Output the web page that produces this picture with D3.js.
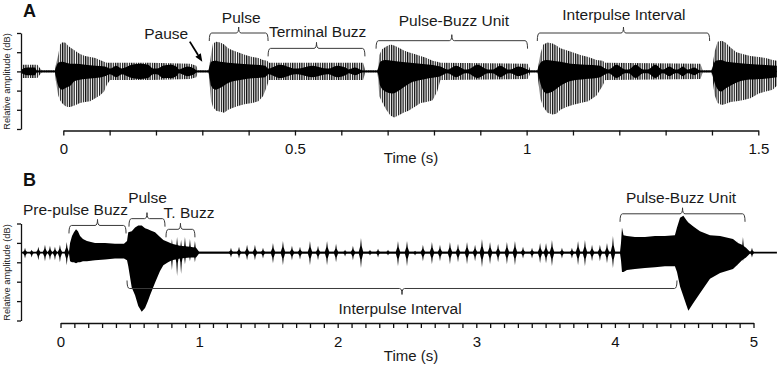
<!DOCTYPE html>
<html lang="en">
<head>
<meta charset="UTF-8">
<title>Call waveforms</title>
<script src="https://d3js.org/d3.v7.min.js"></script>
<style>
  body { margin: 0; background: #fff; }
  svg { display: block; font-family: "Liberation Sans", Arial, sans-serif; }
  .axis path, .axis line { stroke: #111; stroke-width: 1.3; }
  .axis text { font-size: 15px; fill: #111; font-family: "Liberation Sans", Arial, sans-serif; }
  .note { font-size: 15.5px; fill: #1a1a1a; text-anchor: middle; }
  .brace { fill: none; stroke: #3a3a3a; stroke-width: 1; }
  .panel { font-size: 18px; font-weight: bold; fill: #111; }
  .ylab { font-size: 9.3px; fill: #222; text-anchor: middle; }
</style>
</head>
<body>
<div id="chart"></div>
<script>
// ---- axes ----
const timeTicksA = [0, 0.5, 1, 1.5];
const timeTicksB = [0, 1, 2, 3, 4, 5];
const ampTicksA = [-60, -40, -20, 0, 20, 40];
const ampTicksB = [-70, -50, -30, -10, 10, 30];
const traceSpanA = [-0.091, 1.540];
const traceSpanB = [-0.285, 5.169];

// ---- panel A: [time s, upper, lower] ----
// outer envelope of the individual spikes
const spikesA = [
  [-0.090, 7, -7], [-0.056, 7, -7], [-0.050, 3, -3], [-0.046, 1, -1], [-0.018, 1, -1],
  [-0.016, 7, -10], [-0.011, 17, -25], [-0.007, 28, -30], [-0.003, 30, -33], [0.004, 30, -36],
  [0.010, 27, -37], [0.015, 25, -37], [0.021, 23, -36], [0.027, 21, -35], [0.036, 18, -33],
  [0.047, 16, -32], [0.058, 15, -31], [0.069, 14, -28], [0.079, 12, -25], [0.088, 10, -21],
  [0.094, 9, -14], [0.101, 9, -9], [0.187, 9, -9], [0.274, 8, -8], [0.287, 6, -6],
  [0.291, 1, -1], [0.313, 1, -1], [0.315, 5, -8], [0.319, 18, -31], [0.323, 29, -37],
  [0.330, 31, -41], [0.339, 30, -42], [0.347, 28, -43], [0.356, 24, -40], [0.365, 22, -38],
  [0.377, 20, -36], [0.393, 17, -34], [0.408, 15, -33], [0.421, 14, -31], [0.431, 12, -26],
  [0.440, 11, -15], [0.444, 9, -9], [0.647, 9, -9], [0.652, 1, -1], [0.678, 1, -1],
  [0.680, 5, -10], [0.682, 17, -26], [0.688, 23, -32], [0.697, 26, -40], [0.706, 28, -46],
  [0.714, 27, -48], [0.723, 25, -46], [0.734, 22, -43], [0.745, 20, -41], [0.758, 18, -37],
  [0.771, 16, -33], [0.784, 14, -32], [0.797, 11, -30], [0.807, 10, -21], [0.814, 9, -9],
  [1.002, 8, -8], [1.006, 4, -4], [1.008, 1, -1], [1.023, 1, -1], [1.025, 5, -10],
  [1.030, 19, -29], [1.036, 28, -37], [1.045, 30, -43], [1.056, 29, -45], [1.064, 27, -44],
  [1.073, 24, -40], [1.086, 22, -37], [1.099, 20, -35], [1.116, 17, -33], [1.133, 15, -31],
  [1.151, 12, -25], [1.164, 11, -15], [1.170, 9, -9], [1.375, 8, -8], [1.378, 4, -4],
  [1.380, 1, -1], [1.399, 1, -1], [1.401, 5, -8], [1.406, 21, -25], [1.412, 31, -33],
  [1.421, 32, -35], [1.429, 30, -34], [1.440, 25, -32], [1.453, 20, -31], [1.466, 18, -30],
  [1.483, 16, -28], [1.501, 15, -23], [1.516, 14, -21], [1.531, 12, -19], [1.540, 11, -15]
];
// dense black core (pulse bodies and buzz blobs)
const coreA = [
  [-0.090, 2, -2], [-0.078, 4, -4], [-0.061, 4, -4], [-0.057, 1, -1], [-0.018, 1, -1],
  [-0.016, 4, -5], [-0.011, 9, -15], [-0.003, 10, -19], [0.006, 9, -17], [0.015, 8, -15],
  [0.025, 8, -10], [0.047, 7, -8], [0.069, 6, -7], [0.090, 5, -5], [0.101, 3, -3],
  [0.114, 6, -6], [0.127, 3, -3], [0.133, 4, -4], [0.148, 7, -7], [0.166, 8, -8],
  [0.183, 7, -7], [0.194, 3, -3], [0.202, 3, -3], [0.215, 6, -7], [0.231, 7, -7],
  [0.244, 5, -5], [0.250, 2, -2], [0.256, 3, -3], [0.269, 5, -5], [0.282, 3, -3],
  [0.289, 1, -1], [0.313, 1, -1], [0.315, 4, -4], [0.319, 10, -15], [0.328, 11, -19],
  [0.339, 10, -17], [0.356, 9, -12], [0.382, 8, -9], [0.414, 7, -7], [0.436, 6, -6],
  [0.442, 3, -3], [0.468, 7, -7], [0.501, 3, -3], [0.505, 3, -3], [0.537, 6, -6],
  [0.570, 3, -3], [0.572, 3, -3], [0.591, 6, -6], [0.613, 3, -3], [0.615, 2, -2],
  [0.630, 4, -4], [0.647, 1, -1], [0.678, 1, -1], [0.680, 4, -4], [0.684, 10, -15],
  [0.695, 12, -21], [0.710, 11, -23], [0.727, 10, -19], [0.749, 9, -12], [0.771, 8, -9],
  [0.792, 7, -7], [0.814, 5, -5], [0.829, 2, -2], [0.848, 6, -6], [0.868, 2, -2],
  [0.872, 2, -2], [0.894, 7, -7], [0.917, 2, -2], [0.926, 2, -2], [0.943, 6, -6],
  [0.961, 2, -2], [0.965, 2, -2], [0.982, 5, -5], [1.002, 2, -2], [1.008, 1, -1],
  [1.023, 1, -1], [1.025, 4, -4], [1.032, 10, -16], [1.043, 12, -23], [1.056, 11, -21],
  [1.073, 10, -15], [1.095, 8, -10], [1.127, 7, -8], [1.159, 6, -6], [1.170, 3, -3],
  [1.177, 2, -2], [1.194, 7, -7], [1.213, 2, -2], [1.220, 2, -2], [1.235, 7, -7],
  [1.252, 2, -2], [1.261, 2, -2], [1.278, 7, -7], [1.293, 2, -2], [1.295, 2, -2],
  [1.308, 5, -5], [1.321, 2, -2], [1.326, 2, -2], [1.337, 5, -5], [1.347, 2, -2],
  [1.349, 2, -2], [1.362, 4, -4], [1.375, 1, -1], [1.399, 1, -1], [1.401, 4, -4],
  [1.408, 11, -15], [1.419, 12, -21], [1.432, 10, -17], [1.451, 9, -12], [1.473, 8, -9],
  [1.505, 7, -8], [1.540, 6, -6]
];

// ---- panel B: [time s, upper, lower] ----
const envB = [
  [0.061, 1, -1], [0.069, 10, -9], [0.083, 17, -10], [0.097, 21, -10], [0.112, 24, -11],
  [0.126, 22, -10], [0.141, 17, -10], [0.162, 14, -9], [0.191, 12, -9], [0.249, 10, -8],
  [0.321, 10, -7], [0.393, 9, -6], [0.458, 9, -6], [0.480, 12, -8], [0.489, 21, -14],
  [0.514, 22, -36], [0.538, 26, -44], [0.561, 28, -55], [0.586, 28, -61], [0.610, 25, -57],
  [0.631, 24, -50], [0.646, 23, -44], [0.682, 21, -31], [0.718, 16, -19], [0.742, 13, -13],
  [0.776, 11, -10], [0.804, 9, -8], [0.862, 7, -6], [0.934, 6, -5], [0.978, 5, -5],
  [1.000, 1, -1], [4.037, 1, -1], [4.044, 10, -8], [4.051, 26, -20], [4.062, 18, -20],
  [4.087, 17, -18], [4.145, 16, -17], [4.217, 16, -16], [4.289, 17, -15], [4.361, 17, -14],
  [4.433, 18, -14], [4.448, 26, -20], [4.470, 36, -35], [4.494, 38, -45], [4.518, 33, -55],
  [4.530, 31, -60], [4.566, 27, -52], [4.614, 22, -42], [4.686, 18, -27], [4.759, 17, -21],
  [4.852, 14, -17], [4.888, 10, -12], [4.917, 8, -8], [4.946, 5, -5], [4.975, 1, -1]
];
// short buzz bursts
const burstsB = [
  [-0.256, 5, -6], [-0.208, 3, -5], [-0.160, 6, -8], [-0.112, 8, -9], [-0.076, 7, -8],
  [-0.040, 6, -8], [-0.004, 8, -10], [0.045, 11, -13],
  [0.804, 14, -18], [0.841, 16, -24], [0.870, 13, -22], [0.898, 16, -12], [0.934, 14, -9],
  [0.970, 12, -10],
  [1.230, 5, -5], [1.288, 6, -6], [1.346, 8, -8], [1.403, 8, -8], [1.461, 5, -6],
  [1.533, 10, -11], [1.605, 12, -13], [1.670, 7, -8], [1.728, 6, -7], [1.800, 12, -13],
  [1.858, 7, -8], [1.923, 12, -13], [1.988, 9, -10], [2.053, 3, -4], [2.110, 7, -8],
  [2.168, 15, -16], [2.233, 3, -3], [2.291, 4, -5], [2.363, 3, -3], [2.435, 12, -14],
  [2.500, 12, -14], [2.558, 2, -3], [2.615, 8, -9], [2.680, 11, -12], [2.738, 8, -9],
  [2.810, 11, -12], [2.868, 9, -10], [2.933, 11, -12], [2.991, 8, -9], [3.041, 14, -15],
  [3.099, 11, -12], [3.157, 9, -10], [3.221, 11, -12], [3.279, 12, -13], [3.337, 6, -6],
  [3.402, 5, -6], [3.460, 10, -11], [3.503, 10, -11], [3.546, 13, -14], [3.618, 5, -6],
  [3.690, 5, -6], [3.734, 12, -13], [3.784, 13, -14], [3.835, 8, -9], [3.892, 8, -9],
  [3.943, 10, -11], [3.986, 17, -16],
  [4.830, 14, -16], [4.881, 12, -14], [4.924, 16, -9], [4.989, 5, -5]
];

// ---- annotations: [label, t0, t1, brace amplitude, label time, label amplitude] ----
const notesA = [
  ["Pulse", 0.315, 0.442, 40, 0.384, 50],
  ["Terminal Buzz", 0.442, 0.651, 24, 0.549, 36],
  ["Pulse-Buzz Unit", 0.675, 1.002, 32, 0.843, 47],
  ["Interpulse Interval", 1.023, 1.395, 40, 1.210, 54]
];
const pauseA = ["Pause", 0.222, 34, 0.273, 31, 0.300, 10]; // label t, amp, arrow from t, amp, to t, amp
const notesB = [
  ["Pre-pulse Buzz", 0.061, 0.473, 28, 0.108, 39],
  ["Pulse", 0.494, 0.754, 35, 0.628, 51],
  ["T. Buzz", 0.761, 0.970, 24, 0.927, 36],
  ["Pulse-Buzz Unit", 4.037, 4.939, 40, 4.477, 51]
];
const intervalB = ["Interpulse Interval", 0.480, 4.448, -37, 2.450, -63];

// ---- layout ----
const width = 777, height = 368;

const xA = d3.scaleLinear().domain([0, 1.5]).range([63.3, 758.3]);
const yA = d3.scaleLinear().domain([-60, 40]).range([129, 33]);
const xB = d3.scaleLinear().domain([0, 5]).range([60.5, 753.5]);
const yB = d3.scaleLinear().domain([-70, 30]).range([320.5, 223.5]);

const svg = d3.select("#chart").append("svg")
    .attr("width", width)
    .attr("height", height)
    .attr("viewBox", [0, 0, width, height]);

const defs = svg.append("defs");
defs.append("pattern")
    .attr("id", "spikes")
    .attr("patternUnits", "userSpaceOnUse")
    .attr("width", 2.3)
    .attr("height", 8)
    .append("rect")
    .attr("width", 1.25)
    .attr("height", 8)
    .attr("fill", "#111");

function brace(g, x0, x1, y, open) {
    // open = 1 : ends point down, notch up ; open = -1 : reverse
    const xm = (x0 + x1) / 2, e = 8 * open, n = -6 * open, r = 2.5;
    g.append("path")
        .attr("class", "brace")
        .attr("d", `M${x0},${y + e} Q${x0},${y} ${x0 + r},${y} L${xm - r},${y} Q${xm},${y} ${xm},${y + n}` +
            ` Q${xm},${y} ${xm + r},${y} L${x1 - r},${y} Q${x1},${y} ${x1},${y + e}`);
}

function timeAxis(x, labels, n) {
    const vals = d3.range(n + 1).map(i => i / 10);
    return d3.axisBottom(x)
        .tickValues(vals)
        .tickSize(5)
        .tickPadding(8)
        .tickSizeOuter(0)
        .tickFormat(d => {
            const m = labels.find(v => Math.abs(v - d) < 1e-6);
            return m === undefined ? "" : String(m);
        });
}

function burst(x, y0, yh, yl) {
    const w = 2.4, k = 0.45;
    return `M${x - w},${y0} L${x - w * 0.3},${y0 + (yh - y0) * k} L${x},${yh} L${x + w * 0.3},${y0 + (yh - y0) * k}` +
        ` L${x + w},${y0} L${x + w * 0.3},${y0 + (yl - y0) * k} L${x},${yl} L${x - w * 0.3},${y0 + (yl - y0) * k} Z`;
}

// ================= Panel A =================
const gA = svg.append("g");

gA.append("text").attr("class", "panel").attr("x", 23).attr("y", 17).text("A");

gA.append("path")
    .datum(spikesA)
    .attr("fill", "url(#spikes)")
    .attr("d", d3.area().x(d => xA(d[0])).y0(d => yA(d[2])).y1(d => yA(d[1])));

gA.append("path")
    .datum(coreA)
    .attr("fill", "#000")
    .attr("d", d3.area().curve(d3.curveMonotoneX).x(d => xA(d[0])).y0(d => yA(d[2])).y1(d => yA(d[1])));

gA.append("line")
    .attr("x1", xA(traceSpanA[0])).attr("x2", xA(traceSpanA[1]))
    .attr("y1", yA(0)).attr("y2", yA(0))
    .attr("stroke", "#000").attr("stroke-width", 1.5);

gA.append("g")
    .attr("class", "axis")
    .attr("transform", "translate(21,0)")
    .call(d3.axisLeft(yA).tickValues(ampTicksA).tickSize(4).tickSizeOuter(0).tickFormat(""));

gA.append("g")
    .attr("class", "axis")
    .attr("transform", "translate(0,130.5)")
    .call(timeAxis(xA, timeTicksA, 15));

gA.append("text").attr("class", "note").attr("x", 411).attr("y", 163).style("font-size", "15px").text("Time (s)");

gA.append("text")
    .attr("class", "ylab")
    .attr("transform", "translate(9.5,81.5) rotate(-90)")
    .text("Relative amplitude (dB)");

notesA.forEach(([label, t0, t1, amp, tl, al]) => {
    brace(gA, xA(t0), xA(t1), yA(amp), 1);
    gA.append("text").attr("class", "note").attr("x", xA(tl)).attr("y", yA(al)).text(label);
});

{
    const [label, tl, al, ts, as, te, ae] = pauseA;
    gA.append("text").attr("class", "note").attr("x", xA(tl)).attr("y", yA(al)).text(label);
    const x1 = xA(ts), y1 = yA(as), x2 = xA(te), y2 = yA(ae);
    const ang = Math.atan2(y2 - y1, x2 - x1), L = 8, W = 3.2;
    const bx = x2 - L * Math.cos(ang), by = y2 - L * Math.sin(ang);
    gA.append("line")
        .attr("x1", x1).attr("y1", y1).attr("x2", bx).attr("y2", by)
        .attr("stroke", "#000").attr("stroke-width", 1.8);
    gA.append("path")
        .attr("fill", "#000")
        .attr("d", `M${x2},${y2} L${bx - W * Math.sin(ang)},${by + W * Math.cos(ang)} L${bx + W * Math.sin(ang)},${by - W * Math.cos(ang)} Z`);
}

// ================= Panel B =================
const gB = svg.append("g");

gB.append("text").attr("class", "panel").attr("x", 23).attr("y", 186).text("B");

gB.append("line")
    .attr("x1", xB(traceSpanB[0])).attr("x2", xB(traceSpanB[1]))
    .attr("y1", yB(0)).attr("y2", yB(0))
    .attr("stroke", "#000").attr("stroke-width", 1.8);

gB.append("path")
    .datum(envB)
    .attr("fill", "#000")
    .attr("d", d3.area().x(d => xB(d[0])).y0(d => yB(d[2])).y1(d => yB(d[1])));

gB.append("g")
    .selectAll("path")
    .data(burstsB)
    .join("path")
    .attr("fill", "#000")
    .attr("d", d => burst(xB(d[0]), yB(0), yB(d[1]), yB(d[2])));

gB.append("g")
    .attr("class", "axis")
    .attr("transform", "translate(21,0)")
    .call(d3.axisLeft(yB).tickValues(ampTicksB).tickSize(4).tickSizeOuter(0).tickFormat(""));

gB.append("g")
    .attr("class", "axis")
    .attr("transform", "translate(0,323)")
    .call(timeAxis(xB, timeTicksB, 50));

gB.append("text").attr("class", "note").attr("x", 411).attr("y", 361).style("font-size", "15px").text("Time (s)");

gB.append("text")
    .attr("class", "ylab")
    .attr("transform", "translate(9.5,272.5) rotate(-90)")
    .text("Relative amplitude (dB)");

notesB.forEach(([label, t0, t1, amp, tl, al]) => {
    brace(gB, xB(t0), xB(t1), yB(amp), 1);
    gB.append("text").attr("class", "note").attr("x", xB(tl)).attr("y", yB(al)).text(label);
});

{
    const [label, t0, t1, amp, tl, al] = intervalB;
    brace(gB, xB(t0), xB(t1), yB(amp), -1);
    gB.append("text").attr("class", "note").attr("x", xB(tl)).attr("y", yB(al)).text(label);
}
</script>
</body>
</html>
